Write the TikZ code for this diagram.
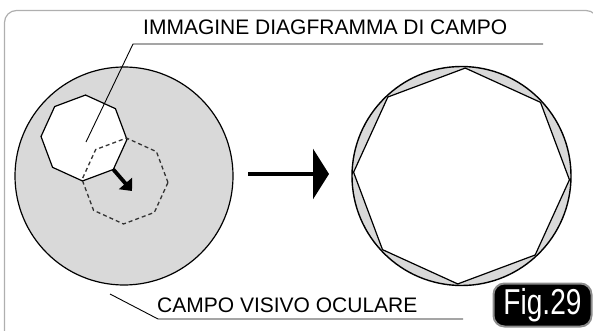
\documentclass[tikz,border=0pt]{standalone}
\usepackage{fontspec}
\setmainfont{Liberation Sans}
\usetikzlibrary{arrows.meta,calc}
\definecolor{fieldgray}{RGB}{217,217,217}
\definecolor{framegray}{RGB}{175,175,175}
\definecolor{taggray}{RGB}{140,140,140}
\tikzset{
  leader/.style={line width=0.9pt},
  rim/.style={line width=1.2pt},
  bigarrow/.style={line width=3.5pt},
  label/.style={font=\fontsize{21}{24}\selectfont, inner sep=0pt, anchor=base west}
}
\begin{document}
\begin{tikzpicture}[x=1pt,y=-1pt]
  \useasboundingbox (0,0) rectangle (593,331);
  % outer frame, its right and bottom sides run off the page
  \draw[framegray, line width=1.2pt, rounded corners=12pt] (4.5,10.5) rectangle (598,345);
  % left panel: field of view with the shifted diaphragm image
  \coordinate (fovL) at (124,176);
  \coordinate (diaA) at (84,138);
  \coordinate (diaB) at (125,181);
  \filldraw[fill=fieldgray, rim] (fovL) circle(109pt);
  \filldraw[fill=white, rim] ($(diaA)+(-2:43pt)$)
    \foreach \i in {1,...,7}{ -- ($(diaA)+(-2+45*\i:43pt)$) } -- cycle;
  \draw[line width=1.3pt, black!80, dash pattern=on 4pt off 3pt] ($(diaB)+(-2:43pt)$)
    \foreach \i in {1,...,7}{ -- ($(diaB)+(-2+45*\i:43pt)$) } -- cycle;
  \coordinate (moveS) at ($(diaA)+(-47:43pt)$);
  \coordinate (moveE) at (132,191);
  \draw[line width=3.8pt, -{Triangle[length=10pt,width=17pt]}] (moveS) -- (moveE);
  % arrow between the two panels
  \coordinate (stepS) at (248,174);
  \coordinate (stepE) at (329,174);
  \draw[bigarrow, -{Triangle[length=16pt,width=50pt]}] (stepS) -- (stepE);
  % right panel: diaphragm opened and centred
  \coordinate (fovR) at (461.5,176);
  \filldraw[fill=fieldgray, line width=1.4pt] (fovR) circle(109.5pt);
  \filldraw[fill=white, rim] ($(fovR)+(-2:108pt)$)
    \foreach \i in {1,...,7}{ -- ($(fovR)+(-2+45*\i:108pt)$) } -- cycle;
  % labels with leader lines
  \node[label] (lblDia) at (143,35) {IMMAGINE DIAGFRAMMA DI CAMPO};
  \coordinate (ptDia) at (86,142);
  \coordinate (ulDiaL) at (133,44);
  \coordinate (ulDiaR) at (543,44);
  \draw[leader] (ptDia) -- (ulDiaL) -- (ulDiaR);
  \node[label] (lblFov) at (157,312) {CAMPO VISIVO OCULARE};
  \coordinate (ptFov) at (110,294);
  \coordinate (ulFovL) at (158,319);
  \coordinate (ulFovR) at (463,319);
  \draw[leader] (ptFov) -- (ulFovL) -- (ulFovR);
  % figure tag
  \node[fill=black, draw=taggray, line width=2pt, rounded corners=11pt,
        text=white, inner sep=0pt, minimum width=98pt, minimum height=43pt,
        font=\fontsize{36}{40}\selectfont] (figTag) at (542.5,305)
        {\scalebox{0.78}[1]{Fig.29}};
\end{tikzpicture}
\end{document}
